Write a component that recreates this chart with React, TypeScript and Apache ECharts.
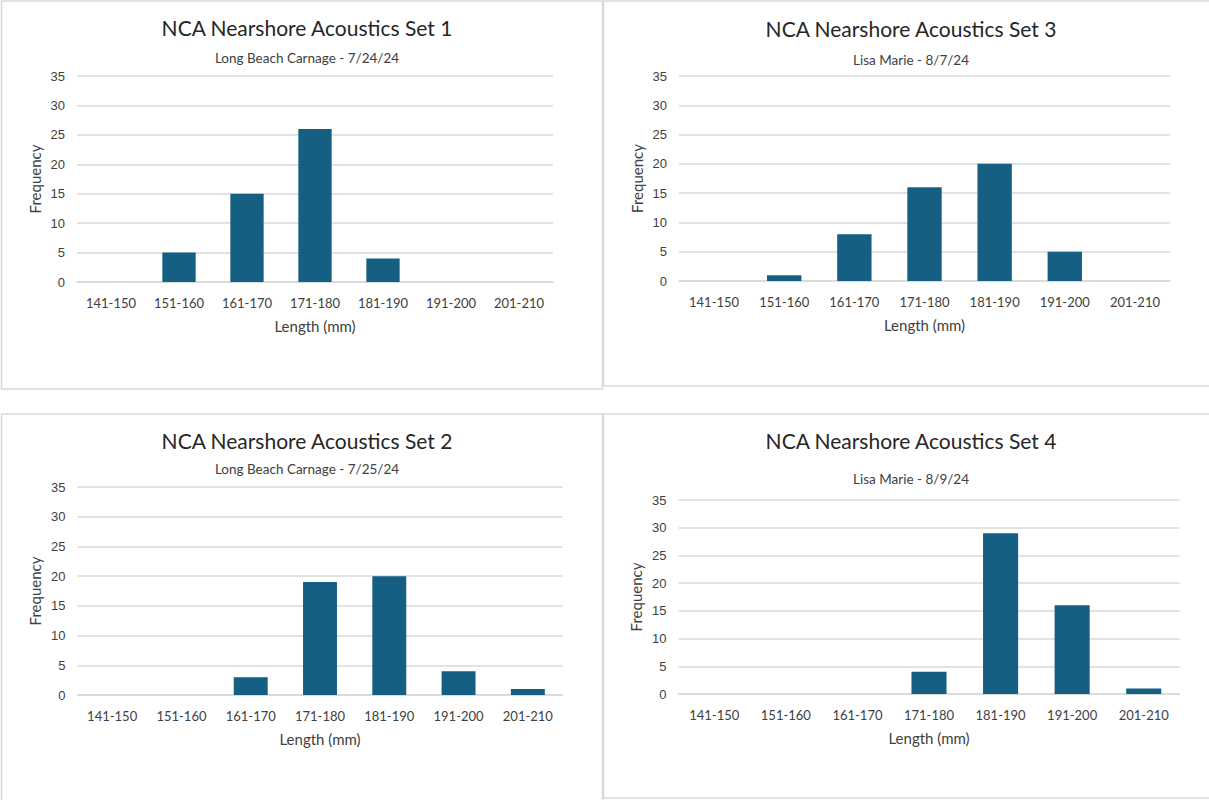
import React, { useEffect, useRef } from "react";
import * as echarts from "echarts";

const categories = ["141-150", "151-160", "161-170", "171-180", "181-190", "191-200", "201-210"];
const set1Values = [0, 5, 15, 26, 4, 0, 0];
const set3Values = [0, 1, 8, 16, 20, 5, 0];
const set2Values = [0, 0, 3, 19, 20, 4, 1];
const set4Values = [0, 0, 0, 4, 29, 16, 1];
const titles = [
  "NCA Nearshore Acoustics Set 1",
  "NCA Nearshore Acoustics Set 3",
  "NCA Nearshore Acoustics Set 2",
  "NCA Nearshore Acoustics Set 4",
];
const subtitles = [
  "Long Beach Carnage - 7/24/24",
  "Lisa Marie - 8/7/24",
  "Long Beach Carnage - 7/25/24",
  "Lisa Marie - 8/9/24",
];
const yTicks = { min: 0, max: 35, interval: 5 };
const xAxisName = "Length (mm)";
const yAxisName = "Frequency";

const FONT = "Lato, 'Liberation Sans', sans-serif";
const BAR = "#156082";
const GRIDLINE = "#d9d9d9";

// layout per panel (page coords)
const panels = [
  { grid: { left: 77, top: 76, width: 476, height: 206 }, titleX: 302, titleY: 12, subY: 46, values: set1Values },
  { grid: { left: 679, top: 76, width: 491, height: 205 }, titleX: 906, titleY: 13, subY: 48, values: set3Values },
  { grid: { left: 77.5, top: 487, width: 485, height: 208 }, titleX: 302, titleY: 425, subY: 457, values: set2Values },
  { grid: { left: 678.5, top: 500, width: 501, height: 194 }, titleX: 906, titleY: 425, subY: 467, values: set4Values },
];

export default function App() {
  const ref = useRef<HTMLDivElement>(null);
  useEffect(() => {
    if (!ref.current) return;
    const chart = echarts.init(ref.current, undefined, { renderer: "svg" });
    const title: any[] = [];
    panels.forEach((p, i) => {
      title.push({
        text: titles[i],
        left: p.titleX,
        top: p.titleY,
        textAlign: "center",
        textStyle: { fontFamily: FONT, fontSize: 21, fontWeight: "normal", color: "#262626" },
      });
      title.push({
        text: subtitles[i],
        left: p.titleX,
        top: p.subY,
        textAlign: "center",
        textStyle: { fontFamily: FONT, fontSize: 13.5, fontWeight: "normal", color: "#404040" },
      });
    });
    const option: any = {
      animation: false,
      backgroundColor: "#ffffff",
      title,
      graphic: [
        { type: "rect", shape: { x: 1.5, y: 1, width: 601, height: 388 }, style: { fill: "none", stroke: GRIDLINE, lineWidth: 1.5 } },
        { type: "rect", shape: { x: 603.5, y: 1, width: 610, height: 385 }, style: { fill: "none", stroke: GRIDLINE, lineWidth: 1.5 } },
        { type: "rect", shape: { x: 1.5, y: 414, width: 601, height: 392 }, style: { fill: "none", stroke: GRIDLINE, lineWidth: 1.5 } },
        { type: "rect", shape: { x: 603.5, y: 414, width: 610, height: 384 }, style: { fill: "none", stroke: GRIDLINE, lineWidth: 1.5 } },
      ],
      grid: panels.map((p) => ({ ...p.grid, containLabel: false })),
      xAxis: panels.map((p, i) => ({
        type: "category",
        gridIndex: i,
        data: categories,
        name: xAxisName,
        nameLocation: "middle",
        nameGap: 36,
        nameTextStyle: { fontFamily: FONT, fontSize: 15, color: "#404040" },
        axisLine: { show: true, lineStyle: { color: GRIDLINE, width: 1.5 } },
        axisTick: { show: false },
        axisLabel: { fontFamily: FONT, fontSize: 13, color: "#404040", margin: 14 },
        splitLine: { show: false },
      })),
      yAxis: panels.map((p, i) => ({
        type: "value",
        gridIndex: i,
        min: yTicks.min,
        max: yTicks.max,
        interval: yTicks.interval,
        name: yAxisName,
        nameLocation: "middle",
        nameRotate: 90,
        nameGap: 35,
        nameTextStyle: { fontFamily: FONT, fontSize: 15, color: "#404040" },
        axisLine: { show: false },
        axisTick: { show: false },
        axisLabel: { fontFamily: "'Liberation Sans', Arial, sans-serif", fontSize: 13, color: "#404040", margin: 12 },
        splitLine: { show: true, lineStyle: { color: GRIDLINE, width: 1.5 } },
      })),
      series: panels.map((p, i) => ({
        type: "bar",
        xAxisIndex: i,
        yAxisIndex: i,
        data: p.values,
        barWidth: "49%",
        itemStyle: { color: BAR },
      })),
    };
    chart.setOption(option);
    return () => chart.dispose();
  }, []);
  return (
    <div
      ref={ref}
      style={{ position: "absolute", left: 0, top: 0, width: 1209, height: 800 }}
    />
  );
}
